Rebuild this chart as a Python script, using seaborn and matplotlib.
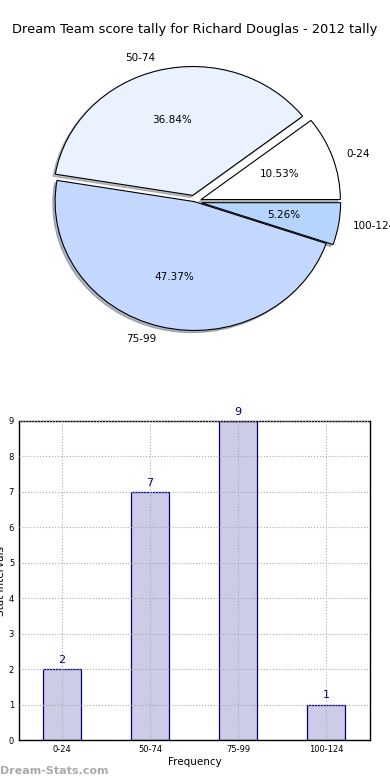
import matplotlib
matplotlib.use('Agg')
import matplotlib.pyplot as plt
import seaborn as sns
import pandas as pd

# Data
categories = ['0-24', '50-74', '75-99', '100-124']
frequency = [2, 7, 9, 1]
pie_colors = ['#ffffff', '#eaf1ff', '#c4d8ff', '#b5d5ff']
explode = [0.05, 0.05, 0.0, 0.05]

sns.set_style('white')
plt.rcParams['font.family'] = ['DejaVu Sans']
plt.rcParams['text.color'] = 'black'
plt.rcParams['axes.labelcolor'] = 'black'
plt.rcParams['xtick.color'] = 'black'
plt.rcParams['ytick.color'] = 'black'

fig = plt.figure(figsize=(3.9, 7.8), dpi=100)

# Title
fig.text(0.5, 1 - 30 / 780, 'Dream Team score tally for Richard Douglas - 2012 tally',
         ha='center', va='center', fontsize=9.4, color='black')

# Pie chart
ax_pie = fig.add_axes([0.052, 0.535, 0.893, 0.413])
ax_pie.pie(
    frequency,
    labels=categories,
    colors=pie_colors,
    explode=explode,
    autopct='%.2f%%',
    shadow={'ox': -0.012, 'oy': -0.012, 'shade': 0.5},
    startangle=0,
    wedgeprops={'edgecolor': 'black', 'linewidth': 0.8},
    textprops={'fontsize': 7.5, 'color': 'black'},
)
ax_pie.set_aspect('auto')
ax_pie.set_xlim(-1.25, 1.25)
ax_pie.set_ylim(-1.25, 1.25)

# Bar chart
ax_bar = fig.add_axes([19 / 390, 40 / 780, 351 / 390, 319 / 780])
df = pd.DataFrame({'interval': categories, 'freq': frequency})
sns.barplot(data=df, x='interval', y='freq', ax=ax_bar, color='#ccccE6',
            edgecolor='#000080', linewidth=0.9, width=0.44, saturation=1)
ax_bar.set_xlim(-0.49, 3.5)
ax_bar.set_ylim(0, 9)
ax_bar.set_yticks(range(10))
ax_bar.tick_params(axis='both', labelsize=6, direction='in', length=3)
ax_bar.grid(True, linestyle=':', color='#aaaaaa', linewidth=0.8)
ax_bar.set_axisbelow(False)
for sp in ax_bar.spines.values():
    sp.set_color('black')
    sp.set_linewidth(1.0)
ax_bar.set_xlabel('Frequency', fontsize=7.5, labelpad=2)
ax_bar.set_ylabel('Stat Intervals', fontsize=7.5, labelpad=2)

for i, v in enumerate(frequency):
    ax_bar.text(i, v + 0.12, str(v), ha='center', va='bottom', fontsize=8, color='#000080')

# Watermark
fig.text(0.0, 1 - 771 / 780, 'Dream-Stats.com', ha='left', va='center',
         fontsize=8, color='#aaaaaa', fontweight='bold')

fig.savefig('out.png', dpi=100)
